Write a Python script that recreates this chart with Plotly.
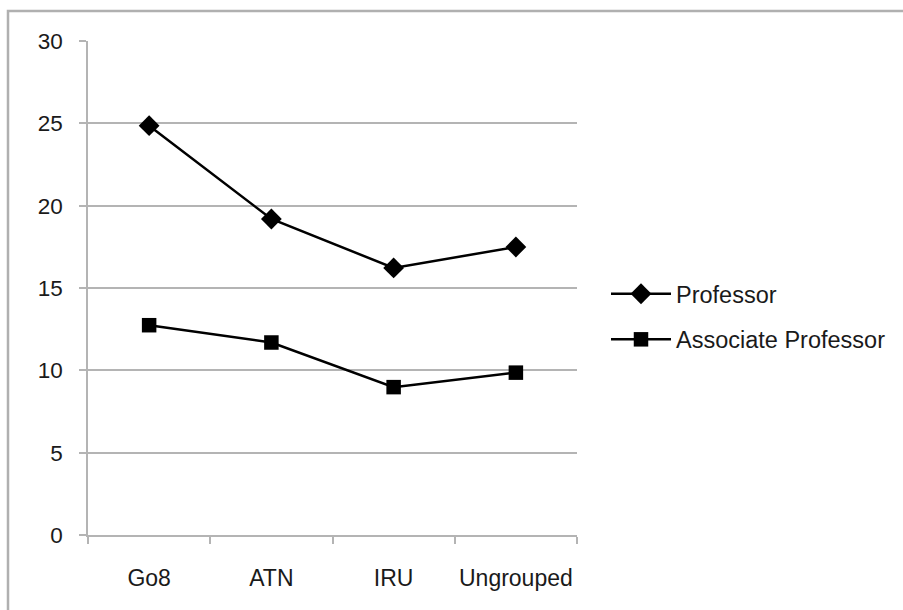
import plotly.graph_objects as go

categories = ["Go8", "ATN", "IRU", "Ungrouped"]
professor = [24.86, 19.19, 16.22, 17.49]
assoc_professor = [12.74, 11.69, 8.98, 9.86]
y_ticks = [0, 5, 10, 15, 20, 25, 30]

FONT = "Liberation Sans, Arial, sans-serif"
GRID = "#b4b4b4"

fig = go.Figure()
fig.add_trace(go.Scatter(
    x=categories, y=professor, name="Professor", mode="lines+markers",
    line=dict(color="black", width=2.5),
    marker=dict(symbol="diamond", size=16, color="black"),
    legendgroup="a",
))
fig.add_trace(go.Scatter(
    x=categories, y=assoc_professor, name="Associate Professor", mode="lines+markers",
    line=dict(color="black", width=2.5),
    marker=dict(symbol="square", size=14.5, color="black"),
    legendgroup="b",
))

L, R, T, B = 88, 326, 41, 75
W, H = 903, 610
pw, ph = W - L - R, H - T - B

fig.update_layout(
    width=W, height=H,
    margin=dict(l=L, r=R, t=T, b=B, pad=0),
    paper_bgcolor="white", plot_bgcolor="white",
    font=dict(family=FONT, size=22, color="#1a1a1a"),
    showlegend=True,
    legend=dict(
        x=(606 - L) / pw, xanchor="left",
        y=(535 - 317) / ph, yanchor="middle",
        font=dict(size=23.5, family=FONT, color="#1a1a1a"),
        traceorder="grouped", tracegroupgap=12,
        itemwidth=60,
        bgcolor="rgba(0,0,0,0)",
    ),
    xaxis=dict(
        type="category", range=[-0.5, 3.5],
        tickson="boundaries", ticks="outside", ticklen=7, tickcolor=GRID, tickwidth=1.5,
        showline=True, linecolor=GRID, linewidth=1.5,
        showgrid=False, zeroline=False,
        ticklabelstandoff=22, tickangle=0, automargin=False,
        tickfont=dict(size=23),
    ),
    yaxis=dict(
        range=[0, 30], tickvals=y_ticks,
        ticks="outside", ticklen=7, tickcolor=GRID, tickwidth=1.5,
        showline=True, linecolor=GRID, linewidth=1.5,
        showgrid=True, gridcolor=GRID, gridwidth=1.5,
        zeroline=False, automargin=False,
        ticklabelstandoff=12,
        tickfont=dict(size=22.5),
    ),
    shapes=[dict(
        type="rect", xref="paper", yref="paper",
        x0=(8 - L) / pw, x1=(W + 20 - L) / pw,
        y0=-0.3, y1=(H - B - 11) / ph,
        line=dict(color="#b0b0b0", width=2.5), layer="below",
    )],
)

fig.write_html("out.html")
